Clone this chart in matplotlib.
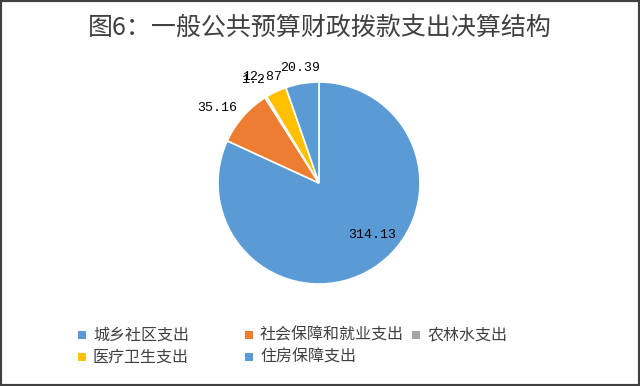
import numpy as np
import matplotlib
matplotlib.use("Agg")
import matplotlib.pyplot as plt
from matplotlib.patches import Rectangle

plt.rcParams['font.family'] = ['Noto Sans CJK SC', 'DejaVu Sans']

# data
categories = ["城乡社区支出", "社会保障和就业支出", "农林水支出", "医疗卫生支出", "住房保障支出"]
values = [314.13, 35.16, 1.2, 12.87, 20.39]
value_labels = ["314.13", "35.16", "1.2", "12.87", "20.39"]
colors = ["#5B9BD5", "#ED7D31", "#A5A5A5", "#FFC000", "#5B9BD5"]
title = "图6：一般公共预算财政拨款支出决算结构"

W, H = 640, 386
fig = plt.figure(figsize=(W / 100, H / 100), dpi=100)

# pie axes: centre (319, 183) px from top, radius ~101 px
cx, cy, r = 319, 183, 101
ax = fig.add_axes([(cx - r) / W, (H - cy - r) / H, 2 * r / W, 2 * r / H])
wedges, _ = ax.pie(values, colors=colors, startangle=90, counterclock=False,
                   wedgeprops=dict(edgecolor="white", linewidth=1.2))
ax.set_xlim(-1, 1)
ax.set_ylim(-1, 1)
ax.set_aspect("equal")

# data labels: big slice inside, the rest outside (Excel best-fit look)
label_dist = [0.73, 1.25, 1.21, 1.19, 1.15]
angle_shift = [13, 5, 1, 3, 0]
for w, txt, d, s in zip(wedges, value_labels, label_dist, angle_shift):
    ang = np.deg2rad((w.theta1 + w.theta2) / 2 + s)
    ax.text(d * np.cos(ang), d * np.sin(ang), txt, ha="center", va="center",
            fontsize=9.5, family="Liberation Mono", color="black")

fig.text(0.5, 1 - 28 / H, title, ha="center", va="center",
         fontsize=18, color="#404040")

# legend laid out like Excel: 3 equal columns, row-major
for i, (name, col) in enumerate(zip(categories, colors)):
    row, c = divmod(i, 3)
    x0 = 78 + c * 167
    yc = 335 + row * 22
    fig.patches.append(Rectangle((x0 / W, (H - yc - 4) / H), 8 / W, 8 / H,
                                 transform=fig.transFigure, facecolor=col,
                                 edgecolor="none"))
    fig.text((x0 + 15) / W, 1 - yc / H, name, ha="left", va="center",
             fontsize=11.5, color="#404040")

# chart-area border
fig.patches.append(Rectangle((0, 0), 1, 1, transform=fig.transFigure,
                             facecolor="none", edgecolor="#404040", linewidth=3))

fig.savefig("out.png", dpi=100)
